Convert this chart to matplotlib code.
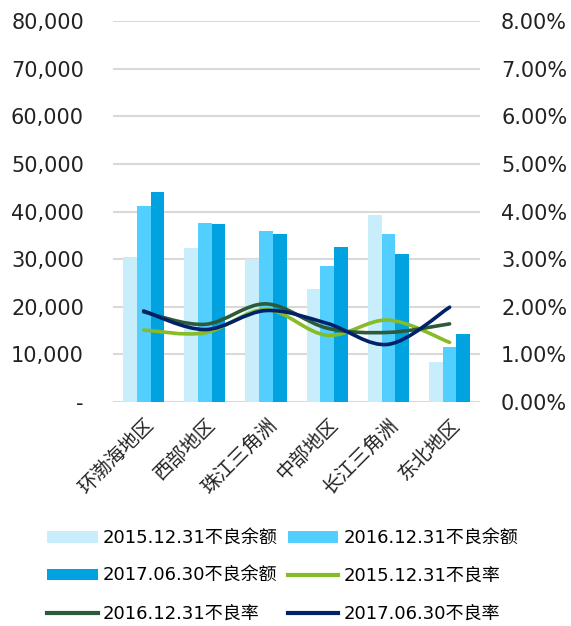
import matplotlib
matplotlib.use("Agg")
import matplotlib.pyplot as plt
import numpy as np
from matplotlib.path import Path
from matplotlib.patches import PathPatch, Patch
from matplotlib.lines import Line2D
from matplotlib.ticker import FuncFormatter

plt.rcParams['font.family'] = ['DejaVu Sans', 'Noto Sans CJK SC']

categories = ['环渤海地区', '西部地区', '珠江三角洲', '中部地区', '长江三角洲', '东北地区']
bal_2015 = [30400, 32300, 29950, 23650, 39300, 8350]
bal_2016 = [41200, 37600, 35850, 28500, 35300, 11450]
bal_2017 = [44200, 37300, 35300, 32500, 31150, 14200]
rate_2015 = [1.51, 1.45, 1.94, 1.40, 1.72, 1.25]
rate_2016 = [1.89, 1.63, 2.06, 1.55, 1.46, 1.64]
rate_2017 = [1.91, 1.52, 1.92, 1.65, 1.21, 1.99]

bar_labels = ['2015.12.31不良余额', '2016.12.31不良余额', '2017.06.30不良余额']
line_labels = ['2015.12.31不良率', '2016.12.31不良率', '2017.06.30不良率']
bar_colors = ['#C8EEFB', '#52CEFF', '#00A3E0']
line_colors = ['#86BC25', '#2D5B3A', '#012169']

fig = plt.figure(figsize=(5.71, 6.26), dpi=100)
ax = fig.add_axes([0.198, 0.358, 0.643, 0.608])
ax2 = ax.twinx()

x = np.arange(len(categories))
w = 0.225
for i, (vals, c) in enumerate(zip([bal_2015, bal_2016, bal_2017], bar_colors)):
    ax.bar(x + (i - 1) * w, vals, width=w, color=c, zorder=2)

ax.set_xlim(-0.5, len(categories) - 0.5)
ax.set_ylim(0, 80000)
ax.set_yticks(np.arange(0, 80001, 10000))
ax.yaxis.set_major_formatter(FuncFormatter(lambda v, p: '-' if v == 0 else f'{int(v):,}'))
ax.grid(axis='y', color='#D9D9D9', linewidth=1.5, zorder=0)
ax.set_axisbelow(True)
for s in ax.spines.values():
    s.set_visible(False)
for s in ax2.spines.values():
    s.set_visible(False)
ax.tick_params(axis='both', length=0, labelsize=15, colors='#222222')
ax.tick_params(axis='y', pad=21)
ax.set_xticks(x)
ax.set_xticklabels(categories, rotation=45, ha='right', rotation_mode='anchor',
                   family=['Noto Sans CJK SC'], fontsize=14)
ax.tick_params(axis='x', pad=9)

ax2.set_ylim(0, 8)
ax2.set_yticks(np.arange(0, 8.01, 1))
ax2.yaxis.set_major_formatter(FuncFormatter(lambda v, p: f'{v:.2f}%'))
ax2.tick_params(axis='y', length=0, labelsize=15, colors='#222222', pad=15)


def smooth_path(xs, ys):
    pts = np.column_stack([xs, ys]).astype(float)
    n = len(pts)
    verts = [pts[0]]
    codes = [Path.MOVETO]
    for i in range(n - 1):
        p0 = pts[i - 1] if i > 0 else pts[i]
        p1 = pts[i]
        p2 = pts[i + 1]
        p3 = pts[i + 2] if i + 2 < n else pts[i + 1]
        c1 = p1 + (p2 - p0) / 6.0
        c2 = p2 - (p3 - p1) / 6.0
        verts += [c1, c2, p2]
        codes += [Path.CURVE4] * 3
    return Path(verts, codes)


for vals, c in zip([rate_2015, rate_2016, rate_2017], line_colors):
    patch = PathPatch(smooth_path(x, vals), facecolor='none', edgecolor=c,
                      linewidth=2.6, capstyle='round', zorder=3)
    ax2.add_patch(patch)

handles = [Patch(facecolor=c, edgecolor='none') for c in bar_colors] + \
          [Line2D([0], [0], color=c, linewidth=3) for c in line_colors]
labels = bar_labels + line_labels
order = [0, 2, 4, 1, 3, 5]
fig.legend([handles[i] for i in order], [labels[i] for i in order],
           loc='lower left', bbox_to_anchor=(0.054, -0.021), ncol=2, frameon=False,
           fontsize=13, handlelength=2.8, handleheight=0.6, columnspacing=0.55,
           labelspacing=1.1, handletextpad=0.3)

fig.savefig('out.png', dpi=100)
